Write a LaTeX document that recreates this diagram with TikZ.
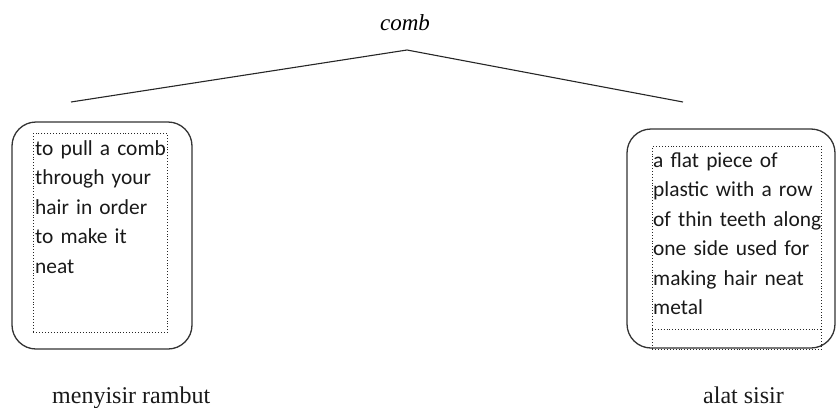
\documentclass[tikz,border=0pt]{standalone}
\usepackage{fontspec}
\setmainfont{Liberation Serif}
\newfontfamily\boxfont{Carlito}
\usepackage{tikz}
\usetikzlibrary{positioning}

\tikzset{
  outerbox/.style = {draw=black!80, line width=1.3pt, rounded corners=24pt, inner sep=0pt},
  dotbox/.style = {draw=black!85, dotted, line width=0.9pt, inner sep=0pt},
  deftext/.style = {font=\boxfont\fontsize{21.4}{29.5}\selectfont, text=black!90,
                    text width=200pt, align=left, inner sep=0pt, anchor=base west},
  wordlabel/.style = {font=\fontsize{24}{26}\selectfont, text=black!90, inner sep=0pt, anchor=base west},
  branch/.style = {draw=black!85, line width=1.1pt}
}

\begin{document}
\begin{tikzpicture}[x=1pt, y=-1pt]
\useasboundingbox (0,0) rectangle (837,407);

% head word and its two branches
\node [font=\itshape\fontsize{23}{26}\selectfont, inner sep=0pt, anchor=base] (comb) at (405,30) {comb};
\coordinate (apex) at (407,50);
\coordinate (lend) at (71,102);
\coordinate (rend) at (683,102);
\draw [branch] (lend) -- (apex) -- (rend);

% left sense
\node [outerbox, minimum width=180pt, minimum height=227pt] (leftbox) at (102,235.5) {};
\node [dotbox, minimum width=134pt, minimum height=199pt, anchor=north west] (leftframe) at (33,133) {};
\node [deftext] (lefttext) at (35,155) {to pull a comb\\ through your\\ hair in order\\ to make it\\ neat};

% right sense
\node [outerbox, minimum width=208pt, minimum height=219pt] (rightbox) at (731,238.5) {};
\node [dotbox, minimum width=169pt, minimum height=203pt, anchor=north west] (rightframe) at (652,146) {};
\draw [dotbox] ([yshift=-183pt]rightframe.north west) -- ([yshift=-183pt]rightframe.north east);
\node [deftext] (righttext) at (653,167) {a flat piece of\\ plastic with a row\\ of thin teeth along\\ one side used for\\ making hair neat\\ metal};

% translations
\node [wordlabel] (leftlabel) at (52,403) {menyisir rambut};
\node [wordlabel] (rightlabel) at (703,403) {alat sisir};
\end{tikzpicture}
\end{document}
